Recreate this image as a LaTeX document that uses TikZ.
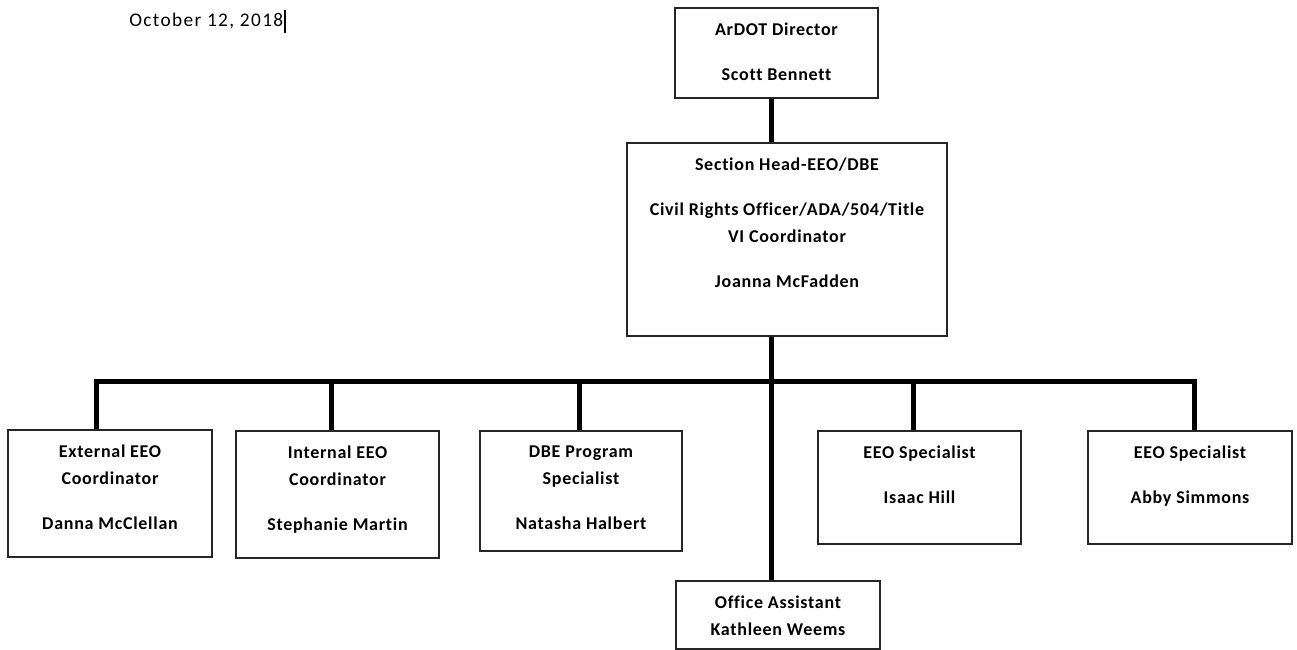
\documentclass[tikz,border=0pt]{standalone}
\usepackage{fontspec}
\setmainfont{Carlito}[LetterSpace=4, Ligatures=NoCommon]
\usetikzlibrary{positioning}

\begin{document}
\begin{tikzpicture}[x=0.75pt, y=-0.75pt, font=\fontsize{13.5}{20}\selectfont\bfseries,
		box/.style 2 args={draw=black!85, line width=1pt, minimum width={#1*0.75pt}, minimum height={#2*0.75pt}, inner sep=0pt},
		txt/.style={align=center, anchor=north, inner sep=0pt, yshift=-11.5pt},
		conn/.style={line width=3.75pt}]
		\useasboundingbox (0,0) rectangle (1297,650);
		
		% Date with cursor
		\node[anchor=west, inner sep=0pt, font=\fontsize{14.5}{16}\selectfont\addfontfeature{LetterSpace=7}] (date) at (129,21) {October 12, 2018};
		\draw[line width=1.5pt] ([xshift=1.5pt]date.east) ++(0,-11.5) -- ++(0,23);
		
		% Top of the chart
		\node[box={203}{90}, label={[txt]north:{ArDOT Director\\[14pt]Scott Bennett}}] (dir) at (776.5,53) {};
		\node[box={320}{193}, label={[txt]north:{Section Head-EEO/DBE\\[14pt]Civil Rights Officer/ADA/504/Title\\VI Coordinator\\[14pt]Joanna McFadden}}] (head) at (787,239.5) {};
		
		% Staff row
		\node[box={204}{127}, label={[txt]north:{External EEO\\Coordinator\\[14pt]Danna McClellan}}] (ext) at (110,493.5) {};
		\node[box={203}{127}, label={[txt]north:{Internal EEO\\Coordinator\\[14pt]Stephanie Martin}}] (int) at (337.5,494.5) {};
		\node[box={202}{120}, label={[txt]north:{DBE Program\\Specialist\\[14pt]Natasha Halbert}}] (dbe) at (581,491) {};
		\node[box={203}{113}, label={[txt]north:{EEO Specialist\\[14pt]Isaac Hill}}] (isaac) at (919.5,487.5) {};
		\node[box={204}{113}, label={[txt]north:{EEO Specialist\\[14pt]Abby Simmons}}] (abby) at (1190,487.5) {};
		\node[box={204}{68}, label={[txt]north:{Office Assistant\\Kathleen Weems}}] (office) at (778,615) {};
		
		% Bus and drops
		\coordinate (spine) at (771,381);
		\coordinate (b1) at (96,381);
		\coordinate (b2) at (331,381);
		\coordinate (b3) at (579,381);
		\coordinate (b4) at (913,381);
		\coordinate (b5) at (1194,381);
		
		\draw[conn] (dir.south -| spine) -- (head.north -| spine);
		\draw[conn] (head.south -| spine) -- (office.north -| spine);
		\draw[conn] (ext.north -| b1) -- (b1) -- (b5) -- (abby.north -| b5);
		\draw[conn] (b2) -- (int.north -| b2);
		\draw[conn] (b3) -- (dbe.north -| b3);
		\draw[conn] (b4) -- (isaac.north -| b4);
		
	\end{tikzpicture}
\end{document}
